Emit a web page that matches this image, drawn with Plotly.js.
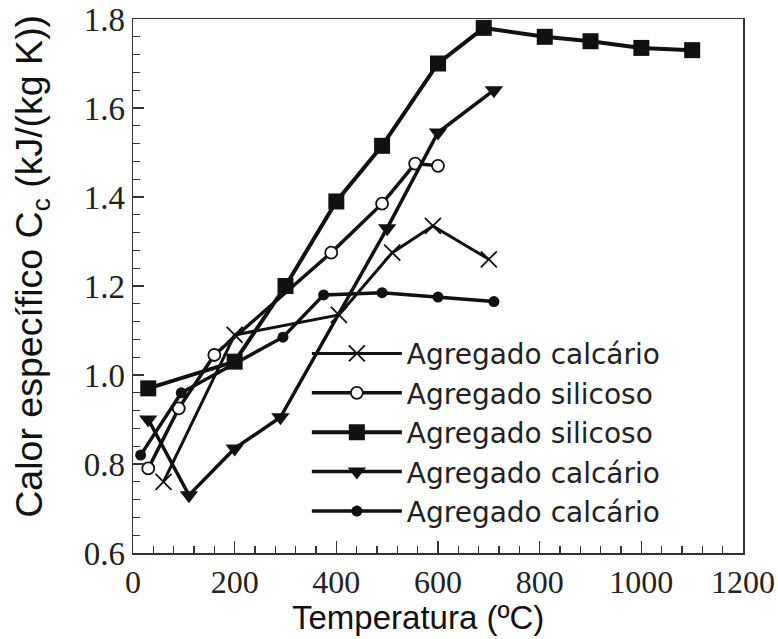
<!DOCTYPE html>
<html>
<head>
<meta charset="utf-8">
<script src="https://cdn.plot.ly/plotly-3.0.1.min.js"></script>
<style>html,body{margin:0;padding:0;background:#fff;}#chart{width:778px;height:639px;}</style>
</head>
<body>
<div id="chart"></div>
<script>
// Data
const crossX = [60, 200, 405, 510, 590, 700];
const crossY = [0.76, 1.09, 1.135, 1.275, 1.335, 1.26];
const openX = [30, 90, 160, 390, 490, 555, 600];
const openY = [0.79, 0.925, 1.045, 1.275, 1.385, 1.475, 1.47];
const squareX = [30, 200, 300, 400, 490, 600, 690, 810, 900, 1000, 1100];
const squareY = [0.97, 1.03, 1.20, 1.39, 1.515, 1.70, 1.78, 1.76, 1.75, 1.735, 1.73];
const triX = [30, 110, 200, 290, 500, 600, 710];
const triY = [0.90, 0.73, 0.835, 0.905, 1.33, 1.545, 1.64];
const dotX = [15, 95, 295, 375, 490, 600, 710];
const dotY = [0.82, 0.96, 1.085, 1.18, 1.185, 1.175, 1.165];
const seriesNames = ["Agregado calcário", "Agregado silicoso", "Agregado silicoso", "Agregado calcário", "Agregado calcário"];
const xTickVals = [0, 200, 400, 600, 800, 1000, 1200];
const yTickVals = [0.6, 0.8, 1.0, 1.2, 1.4, 1.6, 1.8];
const yTickText = ["0.6", "0.8", "1.0", "1.2", "1.4", "1.6", "1.8"];
const xTitle = 'Temperatura (ºC)';
const yTitle = 'Calor específico C<sub>c</sub> (kJ/(kg K))';

const ink = '#111111';
const traces = [
  {x: crossX, y: crossY, name: seriesNames[0], mode: 'lines+markers',
   line: {color: ink, width: 3},
   marker: {symbol: 'x-thin-open', size: 16, color: ink, line: {color: ink, width: 1.8}}},
  {x: openX, y: openY, name: seriesNames[1], mode: 'lines+markers',
   line: {color: ink, width: 3.5},
   marker: {symbol: 'circle', size: 12, color: '#ffffff', line: {color: ink, width: 1.8}}},
  {x: squareX, y: squareY, name: seriesNames[2], mode: 'lines+markers',
   line: {color: ink, width: 4},
   marker: {symbol: 'square', size: 16, color: ink}},
  {x: triX, y: triY, name: seriesNames[3], mode: 'lines+markers',
   line: {color: ink, width: 3.5},
   marker: {symbol: 'triangle-down', size: 16, color: ink}},
  {x: dotX, y: dotY, name: seriesNames[4], mode: 'lines+markers',
   line: {color: ink, width: 3.5},
   marker: {symbol: 'circle', size: 11, color: ink}}
];

const layout = {
  width: 778, height: 639,
  margin: {l: 133, r: 35, t: 19, b: 86},
  paper_bgcolor: '#fff', plot_bgcolor: '#fff',
  showlegend: true,
  legend: {
    x: 0.285, y: 0.42, xanchor: 'left', yanchor: 'top',
    bgcolor: 'rgba(255,255,255,0)',
    font: {family: 'DejaVu Sans, sans-serif', size: 28, color: '#222'},
    itemwidth: 90, tracegroupgap: 0
  },
  xaxis: {
    range: [0, 1200], tickvals: xTickVals, ticktext: xTickVals.map(String),
    ticks: 'inside', ticklen: 12, tickwidth: 1.3, tickcolor: '#333',
    minor: {dtick: 40, ticks: 'inside', ticklen: 7, tickwidth: 1.2, tickcolor: '#333', showgrid: false},
    showline: true, linecolor: '#333', linewidth: 1.5, mirror: true,
    showgrid: false, zeroline: false,
    tickfont: {family: 'Liberation Serif, Times New Roman, serif', size: 32, color: '#222'}
  },
  yaxis: {
    range: [0.6, 1.8], tickvals: yTickVals, ticktext: yTickText,
    ticks: 'inside', ticklen: 11, tickwidth: 1.3, tickcolor: '#333',
    minor: {dtick: 0.04, ticks: 'inside', ticklen: 7, tickwidth: 1.2, tickcolor: '#333', showgrid: false},
    showline: true, linecolor: '#333', linewidth: 1.5, mirror: true,
    showgrid: false, zeroline: false,
    tickfont: {family: 'Liberation Serif, Times New Roman, serif', size: 33, color: '#222'}
  },
  annotations: [
    {text: xTitle, xref: 'paper', yref: 'paper', x: 0.467, y: -0.12, xanchor: 'center', yanchor: 'middle',
     showarrow: false, font: {family: 'Liberation Sans, Arial, sans-serif', size: 33, color: '#111'}},
    {text: yTitle, xref: 'paper', yref: 'paper', x: -0.166, y: 0.5375, xanchor: 'center', yanchor: 'middle',
     textangle: -90, showarrow: false, font: {family: 'Liberation Sans, Arial, sans-serif', size: 37.5, color: '#111'}}
  ]
};

Plotly.newPlot('chart', traces, layout, {displayModeBar: false, staticPlot: true});
</script>
</body>
</html>
